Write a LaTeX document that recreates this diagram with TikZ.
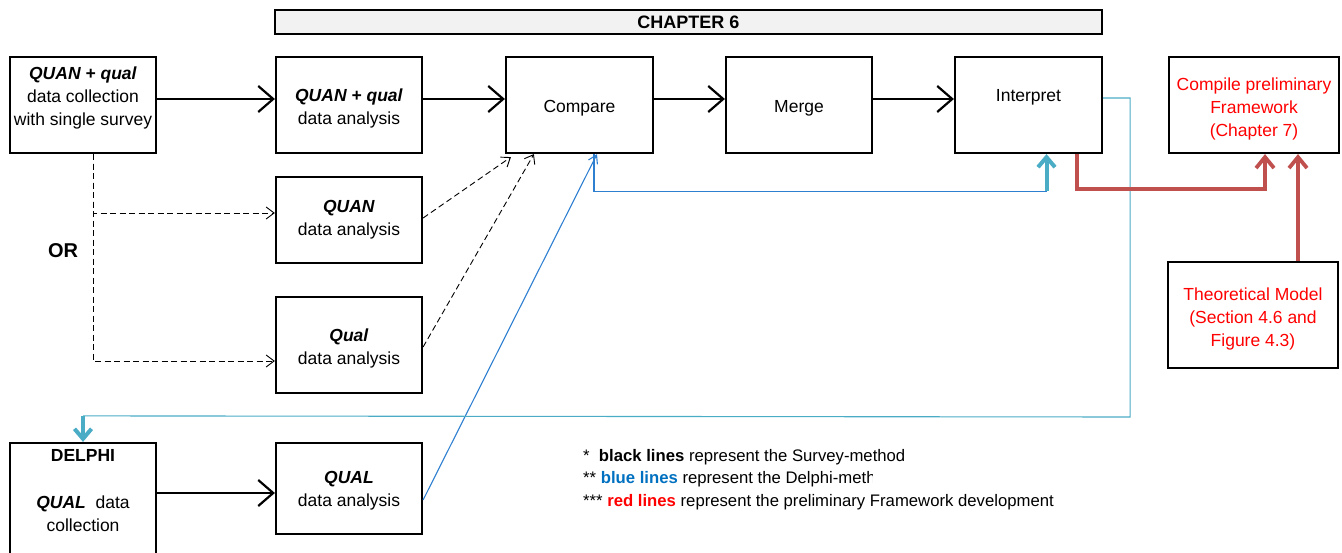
\documentclass[tikz,border=0pt]{standalone}
\usepackage{fontspec}
\setmainfont{Liberation Sans}
\usetikzlibrary{arrows.meta,calc}

\definecolor{frameRed}{HTML}{C0504D}
\definecolor{textRed}{HTML}{FF0000}
\definecolor{delphiBlue}{HTML}{2E7FD0}
\definecolor{delphiTeal}{HTML}{4BACC6}
\definecolor{legendBlue}{HTML}{0070C0}
\definecolor{barGray}{HTML}{F2F2F2}

\newcommand{\boxfont}{\fontsize{17.5}{23}\selectfont}
\newcommand{\legendfont}{\fontsize{16.7}{22.5}\selectfont}

\begin{document}
\begin{tikzpicture}[x=1pt,y=-1pt,
  box/.style={draw, line width=2.2pt, inner sep=0pt, minimum width=146pt,
              minimum height=96pt},
  txt/.style={inner sep=0pt, align=center, font=\boxfont},
  survey/.style={line width=2.2pt, -{Straight Barb[length=15pt,width=26pt]}},
  option/.style={line width=0.9pt, dash pattern=on 6pt off 3.5pt,
                 -{Straight Barb[length=8pt,width=12pt]}},
  delphiln/.style={line width=1.1pt, draw=delphiBlue},
  tealthin/.style={line width=1.1pt, draw=delphiTeal},
  tealarr/.style={line width=4pt, draw=delphiTeal,
                  -{Straight Barb[length=10pt,width=17pt]}},
  frameln/.style={line width=3.8pt, draw=frameRed,
                  -{Straight Barb[length=11pt,width=18pt]}},
  legend/.style={anchor=base west, inner sep=0pt, font=\legendfont},
]
\begin{scope}
\clip (0,0) rectangle (1342,553);

% title bar
\node[draw, line width=2pt, fill=barGray, minimum width=827pt, minimum height=24pt,
      inner sep=0pt, font=\fontsize{18}{20}\selectfont\bfseries] (chapter) at (688.5,22) {CHAPTER 6};

% survey strand
\node[box] (colA) at (83,105) {};
\node[txt] (colAtext) at (83,98) {\textbf{\textit{QUAN + qual}}\\data collection\\with single survey};
\node[box] (anaB) at (349,105) {};
\node[txt] (anaBtext) at (349,108.5) {\textbf{\textit{QUAN + qual}}\\data analysis};
\node[box, minimum width=147pt] (compare) at (579.5,105) {};
\node[txt] (compareText) at (579.5,108) {Compare};
\node[box] (merge) at (799,105) {};
\node[txt] (mergeText) at (799,108) {Merge};
\node[box, minimum width=147pt] (interpret) at (1028.5,105) {};
\node[txt] (interpretText) at (1028.5,97) {Interpret};
\node[box, minimum width=170pt] (compile) at (1254,105) {};
\node[txt, text=textRed] (compileText) at (1254,108.5)
  {Compile preliminary\\Framework\\(Chapter 7)};
\node[box, minimum width=170pt, minimum height=106pt] (theory) at (1253,315) {};
\node[txt, text=textRed] (theoryText) at (1253,319)
  {Theoretical Model\\(Section 4.6 and\\Figure 4.3)};

% alternative analyses
\node[box, minimum height=86pt] (quan) at (349,220) {};
\node[txt] (quanText) at (349,219.5) {\textbf{\textit{QUAN}}\\data analysis};
\node[box] (qualsmall) at (349,345) {};
\node[txt] (qualsmallText) at (349,348.5) {\textbf{\textit{Qual}}\\data analysis};
\node[font=\fontsize{20}{22}\selectfont\bfseries, inner sep=0pt] (orLabel) at (63,251) {OR};

% Delphi strand
\node[box, minimum height=130pt] (delphiBox) at (83,508) {};
\node[txt] (delphiTitle) at (83,455) {\textbf{DELPHI}};
\node[txt] (delphiText) at (83,514) {\textbf{\textit{QUAL}}\ \ data\\collection};
\node[box, minimum height=91pt] (qualan) at (349,488.5) {};
\node[txt] (qualanText) at (349,490.5) {\textbf{\textit{QUAL}}\\data analysis};

% survey connectors
\draw[survey] ($(colA.east)+(0,-6)$) -- ($(anaB.west)+(0,-6)$);
\draw[survey] ($(anaB.east)+(0,-6)$) -- ($(compare.west)+(0,-6)$);
\draw[survey] ($(compare.east)+(0,-6)$) -- ($(merge.west)+(0,-6)$);
\draw[survey] ($(merge.east)+(0,-6)$) -- ($(interpret.west)+(0,-6)$);
\coordinate (dq) at ($(qualan.west)+(0,4.5)$);
\draw[survey] (delphiBox.east |- dq) -- (dq);

% optional separate analyses
\coordinate (split) at ($(colA.south)+(10,0)$);
\draw[option] (split) |- ($(quan.west)+(0,-7)$);
\draw[option] (split) |- ($(qualsmall.west)+(0,16)$);
\draw[option] ($(quan.east)+(0,-2)$) -- ($(compare.south west)+(6,3)$);
\draw[option] ($(qualsmall.east)+(0,2)$) -- ($(compare.south west)+(29,0)$);

% Delphi connectors
\draw[delphiln, -{Straight Barb[length=8pt,width=10pt]}]
  ($(qualan.east)+(0,11.5)$) -- ($(compare.south)+(17.5,0)$);
\coordinate (toInterp) at ($(interpret.south)+(18,37)$);
\draw[delphiln] ($(compare.south)+(14.5,0)$) |- (toInterp);
\draw[tealarr] (toInterp) -- ($(interpret.south)+(18,0)$);
\coordinate (backRight) at ($(interpret.east)+(27,312)$);
\coordinate (toDelphi) at ($(delphiBox.north)+(0,-26)$);
\draw[tealthin] ($(interpret.east)+(0,-7)$) -| (backRight) -- (toDelphi);
\draw[tealarr] (toDelphi) -- (delphiBox.north);

% framework connectors
\draw[frameln] ($(interpret.south)+(48.5,0)$) |- ($(compile.south)+(11,35)$) -- ($(compile.south)+(11,0)$);
\draw[frameln] ($(theory.north)+(45,0)$) -- ($(compile.south)+(44,0)$);

% legend
\node[legend] (legend1) at (583,461) {*\ \ \textbf{black lines} represent the Survey-method};
\begin{scope}
\clip (570,466) rectangle (872,490);
\node[legend] (legend2) at (583,483) {** \textcolor{legendBlue}{\textbf{blue lines}} represent the Delphi-method};
\end{scope}
\node[legend] (legend3) at (583,506) {*** \textcolor{textRed}{\textbf{red lines}} represent the preliminary Framework development};
\end{scope}

\pgfresetboundingbox
\useasboundingbox (0,0) rectangle (1342,553);
\end{tikzpicture}
\end{document}
